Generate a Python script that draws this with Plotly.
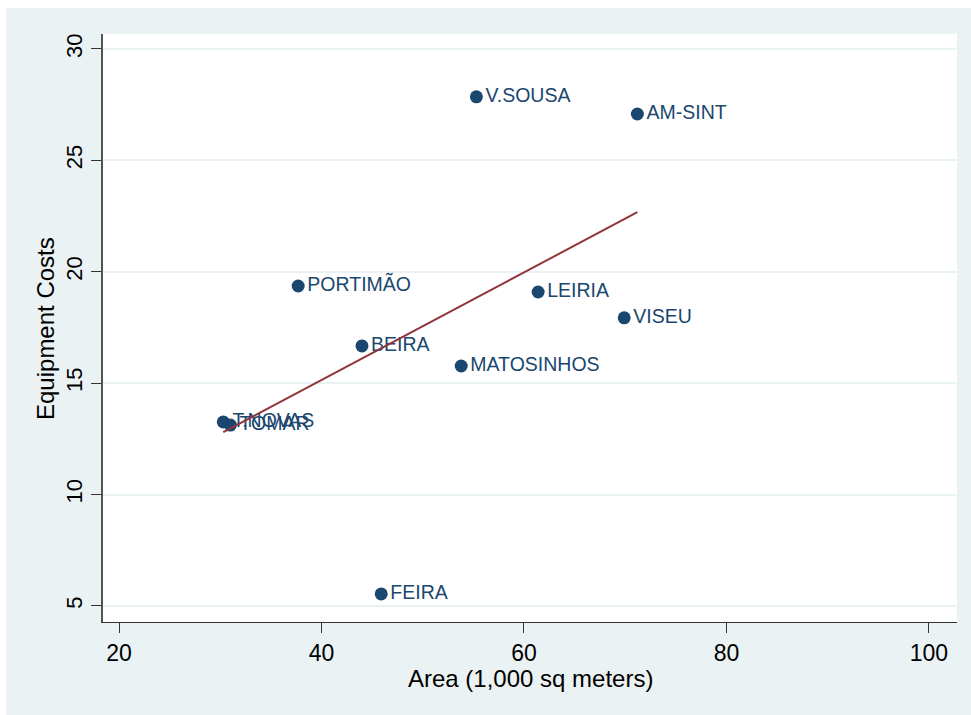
import numpy as np
import plotly.graph_objects as go

# Store data: floor area (1,000 sq meters) vs. equipment costs
stores = ["V.SOUSA", "AM-SINT", "PORTIMÃO", "LEIRIA", "VISEU",
          "BEIRA", "MATOSINHOS", "T.NOVAS", "TOMAR", "FEIRA"]
area = [55.3, 71.2, 37.7, 61.4, 69.9, 44.0, 53.8, 30.3, 31.0, 45.9]
equipment_costs = [27.85, 27.08, 19.36, 19.09, 17.93, 16.67, 15.77, 13.26, 13.12, 5.54]

x_ticks = [20, 40, 60, 80, 100]
y_ticks = [5, 10, 15, 20, 25, 30]

MARKER = "#1a476f"
FIT = "#90353b"
BG = "#eaf2f3"
FONT = "Liberation Sans, Arial, sans-serif"

# Least-squares linear fit over the observed range of area
slope, intercept = np.polyfit(area, equipment_costs, 1)
fit_x = [min(area), max(area)]
fit_y = [intercept + slope * v for v in fit_x]

fig = go.Figure()
fig.add_trace(go.Scatter(
    x=area, y=equipment_costs, mode="markers+text",
    text=stores, textposition="middle right",
    textfont=dict(family=FONT, size=19.5, color=MARKER),
    marker=dict(size=13, color=MARKER),
    showlegend=False, cliponaxis=False,
))
fig.add_trace(go.Scatter(
    x=fit_x, y=fit_y, mode="lines",
    line=dict(color=FIT, width=2),
    showlegend=False,
))

W, H = 971, 715
L, R, T, B = 103, 14, 34, 93
pw, ph = W - L - R, H - T - B


def px(xp):
    return (xp - L) / pw


def py(yp):
    return (H - B - yp) / ph


fig.update_layout(
    width=W, height=H,
    margin=dict(l=L, r=R, t=T, b=B, autoexpand=False),
    paper_bgcolor=BG, plot_bgcolor="white",
    font=dict(family=FONT, color="black"),
    xaxis=dict(
        range=[18.42, 102.77], tickvals=x_ticks,
        showgrid=False, zeroline=False,
        showline=True, linecolor="#333333", linewidth=1.3,
        ticks="outside", ticklen=10, tickcolor="#333333", tickwidth=1.3,
        tickfont=dict(family=FONT, size=23, color="black"),
    ),
    yaxis=dict(
        range=[4.28, 30.67], tickvals=y_ticks, tickangle=-90,
        showgrid=True, gridcolor=BG, gridwidth=1.5, zeroline=False,
        showline=True, linecolor="#555555", linewidth=1.5,
        ticks="outside", ticklen=10, tickcolor="#333333", tickwidth=1.3,
        tickfont=dict(family=FONT, size=22, color="black"),
    ),
    annotations=[
        dict(text="Area (1,000 sq meters)", xref="paper", yref="paper",
             x=0.5, y=py(678), xanchor="center", yanchor="middle",
             showarrow=False, font=dict(family=FONT, size=24, color="black")),
        dict(text="Equipment Costs", xref="paper", yref="paper",
             x=px(45), y=py(328), xanchor="center", yanchor="middle",
             textangle=-90, showarrow=False,
             font=dict(family=FONT, size=24, color="black")),
    ],
    shapes=[
        # thin white strips along the top and left edges of the page
        dict(type="rect", xref="paper", yref="paper",
             x0=px(0), x1=px(W), y0=py(8), y1=py(0),
             fillcolor="white", line=dict(width=0), layer="below"),
        dict(type="rect", xref="paper", yref="paper",
             x0=px(0), x1=px(6), y0=py(H), y1=py(0),
             fillcolor="white", line=dict(width=0), layer="below"),
    ],
)

fig.write_html("out.html")
